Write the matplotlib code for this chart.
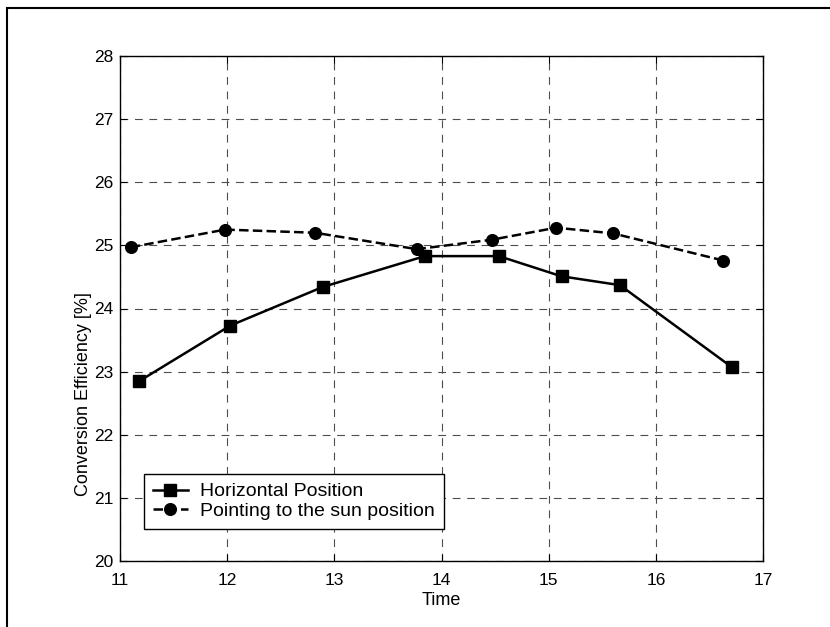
import matplotlib
matplotlib.use("Agg")
import matplotlib.pyplot as plt
from matplotlib.patches import Rectangle

time_horizontal = [11.18, 12.03, 12.89, 13.845, 14.535, 15.12, 15.665, 16.71]
eff_horizontal = [22.85, 23.73, 24.34, 24.83, 24.83, 24.51, 24.37, 23.07]
time_sun = [11.10, 11.98, 12.82, 13.77, 14.47, 15.07, 15.60, 16.63]
eff_sun = [24.97, 25.25, 25.20, 24.94, 25.09, 25.28, 25.19, 24.76]
xticks = [11, 12, 13, 14, 15, 16, 17]
yticks = [20, 21, 22, 23, 24, 25, 26, 27, 28]

plt.rcParams['font.family'] = ['Liberation Sans', 'DejaVu Sans']
fig = plt.figure(figsize=(8.3, 6.27), dpi=100)
fig.patches.append(Rectangle((7/830, -0.1), 1.2, 0.1 + (627-8)/627, transform=fig.transFigure,
                             fill=False, edgecolor='black', linewidth=1.5))
ax = fig.add_axes([120/830, 66/627, 643/830, 505/627])
ax.plot(time_horizontal, eff_horizontal, '-', color='black', linewidth=1.8,
        marker='s', markersize=9, label='Horizontal Position')
ax.plot(time_sun, eff_sun, '--', color='black', linewidth=1.8, dashes=(3.8, 1.7),
        marker='o', markersize=8.4, label='Pointing to the sun position')
ax.set_xlim(11, 17)
ax.set_ylim(20, 28)
ax.set_xticks(xticks)
ax.set_yticks(yticks)
ax.grid(True, linestyle=(0, (7, 6)), color='0.3', linewidth=0.8)
ax.tick_params(direction='in', top=True, right=True, labelsize=12.5, length=5)
ax.tick_params(axis='x', pad=8.5)
ax.tick_params(axis='y', pad=4.8)
for s in ax.spines.values():
    s.set_linewidth(1.0)
ax.set_xlabel('Time', fontsize=13, labelpad=3)
ax.set_ylabel('Conversion Efficiency [%]', fontsize=13)
ax.yaxis.set_label_coords(-0.044, 0.33)
leg = ax.legend(loc='lower left', bbox_to_anchor=(24/643, 32/505), fontsize=14,
                frameon=True, fancybox=False, edgecolor='black', framealpha=1,
                borderpad=0.45, labelspacing=0.12, handlelength=1.8, handletextpad=0.65,
                borderaxespad=0)
leg.get_frame().set_linewidth(1.0)
fig.savefig('out.png', dpi=100)
